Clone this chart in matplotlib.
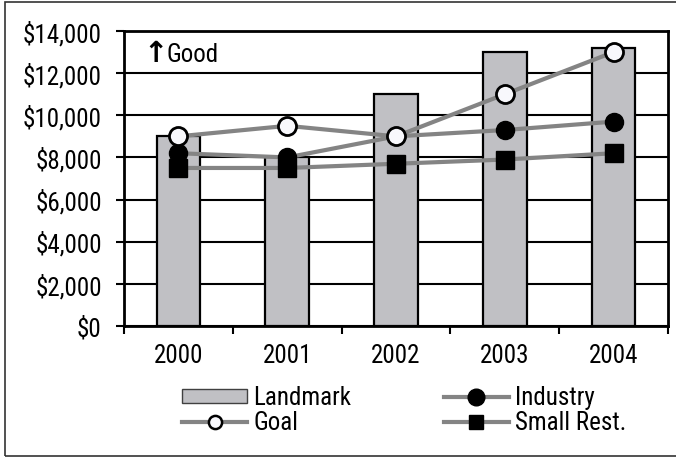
import matplotlib.pyplot as plt
import matplotlib.patches as mpatches
from matplotlib.lines import Line2D
from matplotlib.ticker import FuncFormatter
from matplotlib import font_manager
import numpy as np

years = ['2000', '2001', '2002', '2003', '2004']
landmark = [9000, 8000, 11000, 13000, 13200]
goal = [9000, 9500, 9000, 11000, 13000]
industry = [8200, 8000, 9000, 9300, 9700]
small_rest = [7500, 7500, 7700, 7900, 8200]

# condensed face similar to the original, fall back if missing
avail = {f.name for f in font_manager.fontManager.ttflist}
main_font = next((n for n in ['Roboto Condensed', 'Archivo Narrow', 'Liberation Sans Narrow', 'Roboto']
                  if n in avail), 'DejaVu Sans')
plt.rcParams['font.family'] = [main_font, 'DejaVu Sans']
plt.rcParams['font.size'] = 18

fig = plt.figure(figsize=(6.76, 4.6), dpi=100)
ax = fig.add_axes([124 / 676, 1 - 327 / 460, (668 - 124) / 676, (327 - 32) / 460])

x = np.arange(len(years))
line_col = '#848484'
ax.bar(x, landmark, width=0.4, color='#c0c0c4', edgecolor='black', linewidth=1.6, zorder=2)
ax.plot(x, small_rest, color=line_col, lw=3, marker='s', ms=13, mfc='black', mec='black', zorder=3)
ax.plot(x, industry, color=line_col, lw=3, marker='o', ms=13, mfc='black', mec='black', zorder=4)
ax.plot(x, goal, color=line_col, lw=3, marker='o', ms=13, mfc='#f8f8fc', mec='black', mew=2, zorder=5)

ax.set_xlim(-0.5, 4.5)
ax.set_ylim(0, 14000)
ax.set_yticks(range(0, 14001, 2000))
ax.yaxis.set_major_formatter(FuncFormatter(lambda v, p: '${:,.0f}'.format(v)))
ax.grid(axis='y', color='black', lw=1.5, zorder=0)
ax.set_axisbelow(True)

ax.set_xticks(x)
ax.set_xticklabels(years)
ax.set_xticks(np.arange(-0.5, 5, 1), minor=True)
ax.tick_params(axis='x', which='major', length=0, pad=12)
ax.tick_params(axis='x', which='minor', length=6, width=1.5, direction='out')
ax.tick_params(axis='y', length=6, width=1.5, direction='out', pad=10)
for s in ax.spines.values():
    s.set_linewidth(2)

ax.text(0.036, 0.898, '\u2191', transform=ax.transAxes, fontsize=21, fontweight='bold',
        va='baseline', family=['DejaVu Sans'])
ax.text(0.078, 0.898, 'Good', transform=ax.transAxes, va='baseline')

handles = [
    mpatches.Patch(facecolor='#c0c0c4', edgecolor='#404040', lw=1),
    Line2D([], [], color=line_col, lw=3, marker='o', ms=9.5, mfc='#f8f8fc', mec='black', mew=1.8),
    Line2D([], [], color=line_col, lw=3, marker='o', ms=12, mfc='black', mec='black'),
    Line2D([], [], color=line_col, lw=3, marker='s', ms=10, mfc='black', mec='black'),
]
labels = ['Landmark', 'Goal', 'Industry', 'Small Rest.']
fig.legend(handles, labels, ncol=2, frameon=False, loc='center',
           bbox_to_anchor=(0.598, 1 - 411 / 460), handlelength=2.6, handleheight=0.5,
           handletextpad=0.25, columnspacing=3.7, labelspacing=0.04, borderpad=0)

fig.patches.append(mpatches.Rectangle((5 / 676, 3 / 460), 1.2, 1 - 6 / 460, transform=fig.transFigure,
                                      fill=False, edgecolor='#333333', lw=1.2))

fig.savefig('out.png', dpi=100)
